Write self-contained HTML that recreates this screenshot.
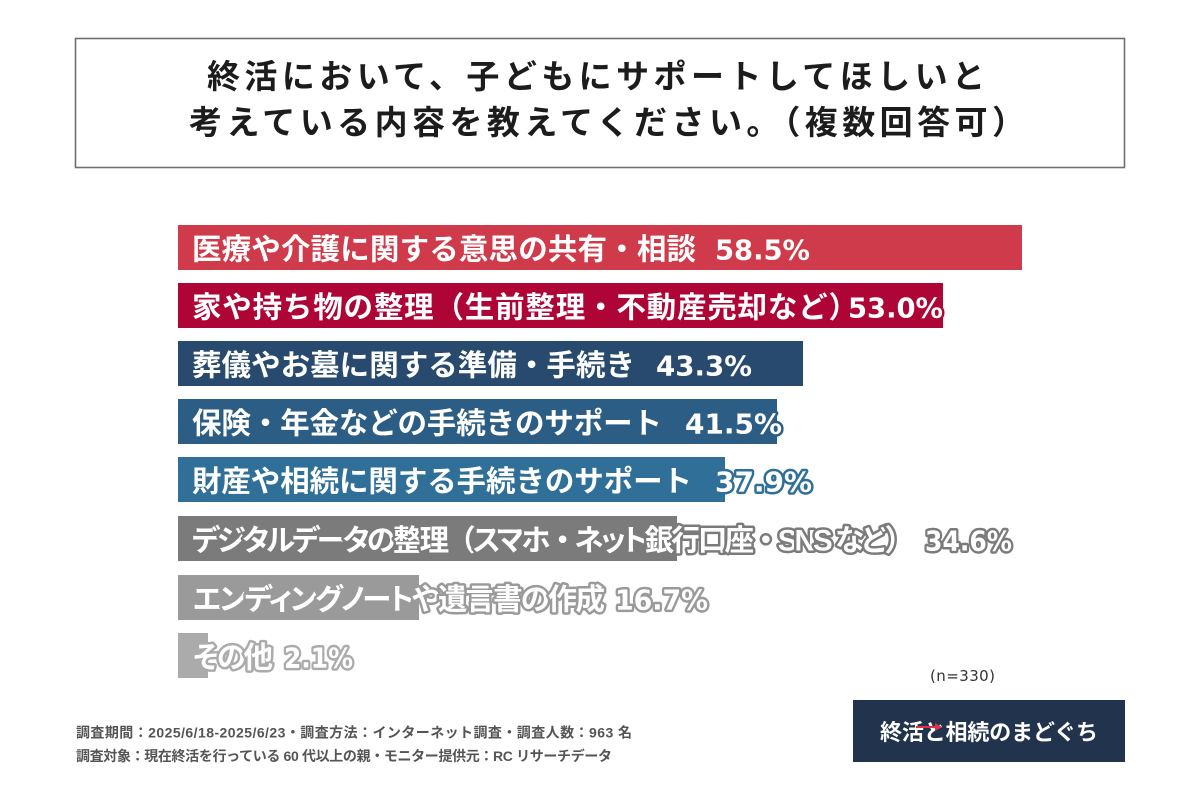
<!DOCTYPE html>
<html lang="ja">
<head>
<meta charset="utf-8">
<style>
  html,body{margin:0;padding:0;background:#ffffff;}
  body{width:1200px;height:800px;overflow:hidden;}
  svg{display:block;}
  .jp{font-family:"Liberation Sans","Noto Sans CJK JP",sans-serif;font-weight:bold;}
  .lbl{font-family:"Liberation Sans","Noto Sans CJK JP",sans-serif;font-weight:bold;font-size:29.5px;fill:#ffffff;paint-order:stroke;stroke-width:5px;stroke-linejoin:round;}
  .palt{font-feature-settings:"palt";}
  .nopalt{font-feature-settings:normal;}
  .pct{font-family:"DejaVu Sans","Liberation Sans",sans-serif;font-weight:bold;font-size:28px;fill:#ffffff;paint-order:stroke;stroke-width:5px;stroke-linejoin:round;}
</style>
</head>
<body>
<svg width="1200" height="800" viewBox="0 0 1200 800" xmlns="http://www.w3.org/2000/svg">
  <rect x="0" y="0" width="1200" height="800" fill="#ffffff"/>

  <!-- Title box -->
  <rect x="75.5" y="38.5" width="1049" height="129" fill="#ffffff" stroke="#6e6e6e" stroke-width="1.6"/>
  <text class="jp" x="207" y="88" font-size="33" fill="#1c1c1c" textLength="778" lengthAdjust="spacing">終活において、子どもにサポートしてほしいと</text>
  <text class="jp" x="189" y="134" font-size="33" fill="#1c1c1c" textLength="836" lengthAdjust="spacing">考えている内容を教えてください。（複数回答可）</text>

  <!-- Bars -->
  <rect x="178" y="225" width="844" height="45" fill="#d03b4b"/>
  <rect x="178" y="283" width="765" height="45" fill="#ae0436"/>
  <rect x="178" y="341" width="625" height="45" fill="#284a6e"/>
  <rect x="178" y="399" width="599" height="45" fill="#2c5d84"/>
  <rect x="178" y="457" width="547" height="45" fill="#2f6f98"/>
  <rect x="178" y="516" width="499" height="45" fill="#7b7b7b"/>
  <rect x="178" y="575" width="241" height="45" fill="#9a9a9a"/>
  <rect x="178" y="633" width="30" height="45" fill="#ababab"/>

  <!-- Labels -->
  <text class="lbl" x="192" y="259.5" stroke="#d03b4b" textLength="504" lengthAdjust="spacing">医療や介護に関する意思の共有・相談</text>
  <text class="pct" x="715" y="259.5" stroke="#d03b4b" textLength="95" lengthAdjust="spacingAndGlyphs">58.5%</text>

  <text class="lbl" x="192" y="317.5" stroke="#ae0436" textLength="666" lengthAdjust="spacing">家や持ち物の整理（生前整理・不動産売却など）</text>
  <text class="pct" x="848" y="317.5" stroke="#ae0436" textLength="95" lengthAdjust="spacingAndGlyphs">53.0%</text>

  <text class="lbl" x="192" y="375.5" stroke="#284a6e" textLength="443" lengthAdjust="spacing">葬儀やお墓に関する準備・手続き</text>
  <text class="pct" x="656" y="375.5" stroke="#284a6e" textLength="96" lengthAdjust="spacingAndGlyphs">43.3%</text>

  <text class="lbl" x="192" y="433.5" stroke="#2c5d84" textLength="470" lengthAdjust="spacing">保険・年金などの手続きのサポート</text>
  <text class="pct" x="685" y="433.5" stroke="#2c5d84" textLength="97" lengthAdjust="spacingAndGlyphs">41.5%</text>

  <text class="lbl" x="192" y="491.5" stroke="#2f6f98" textLength="500" lengthAdjust="spacing">財産や相続に関する手続きのサポート</text>
  <text class="pct" x="715" y="491.5" stroke="#2f6f98" textLength="97" lengthAdjust="spacingAndGlyphs">37.9%</text>

  <text class="lbl palt" x="192" y="550.5" stroke="#7b7b7b" textLength="722" lengthAdjust="spacing">デジタルデータの整理<tspan class="nopalt">（</tspan>スマホ<tspan class="nopalt">・</tspan>ネット銀行口座<tspan class="nopalt">・</tspan>SNS など<tspan class="nopalt">）</tspan></text>
  <text class="pct" x="925" y="550.5" stroke="#7b7b7b" textLength="87" lengthAdjust="spacingAndGlyphs">34.6%</text>

  <text class="lbl palt" x="193" y="609.5" stroke="#9a9a9a" textLength="412" lengthAdjust="spacing">エンディングノートや遺言書の作成</text>
  <text class="pct" x="615" y="609.5" stroke="#9a9a9a" textLength="93" lengthAdjust="spacingAndGlyphs">16.7%</text>

  <text class="lbl palt" x="193" y="667.5" stroke="#ababab" textLength="80" lengthAdjust="spacing">その他</text>
  <text class="pct" x="284" y="667.5" stroke="#ababab" textLength="69" lengthAdjust="spacingAndGlyphs">2.1%</text>

  <!-- n -->
  <text x="930" y="681" font-size="15" fill="#333333" textLength="65" lengthAdjust="spacing" style="font-family:'DejaVu Sans','Liberation Sans',sans-serif;">(n=330)</text>

  <!-- Footer -->
  <text class="jp" x="76" y="737.5" font-size="14" fill="#555555" textLength="556" lengthAdjust="spacing">調査期間：2025/6/18-2025/6/23・調査方法：インターネット調査・調査人数：963 名</text>
  <text class="jp" x="76" y="761" font-size="14" fill="#555555" textLength="536" lengthAdjust="spacing">調査対象：現在終活を行っている 60 代以上の親・モニター提供元：RC リサーチデータ</text>

  <!-- Logo -->
  <rect x="853" y="700" width="272" height="62" fill="#22344d"/>
  <text class="jp" x="880" y="740" font-size="22" fill="#ffffff" textLength="218" lengthAdjust="spacing">終活と相続のまどぐち</text>
  <line x1="916" y1="727" x2="938" y2="727" stroke="#e0304a" stroke-width="2"/>
  <polygon points="942,727 935,723 935,731" fill="#e0304a"/>
</svg>
</body>
</html>
